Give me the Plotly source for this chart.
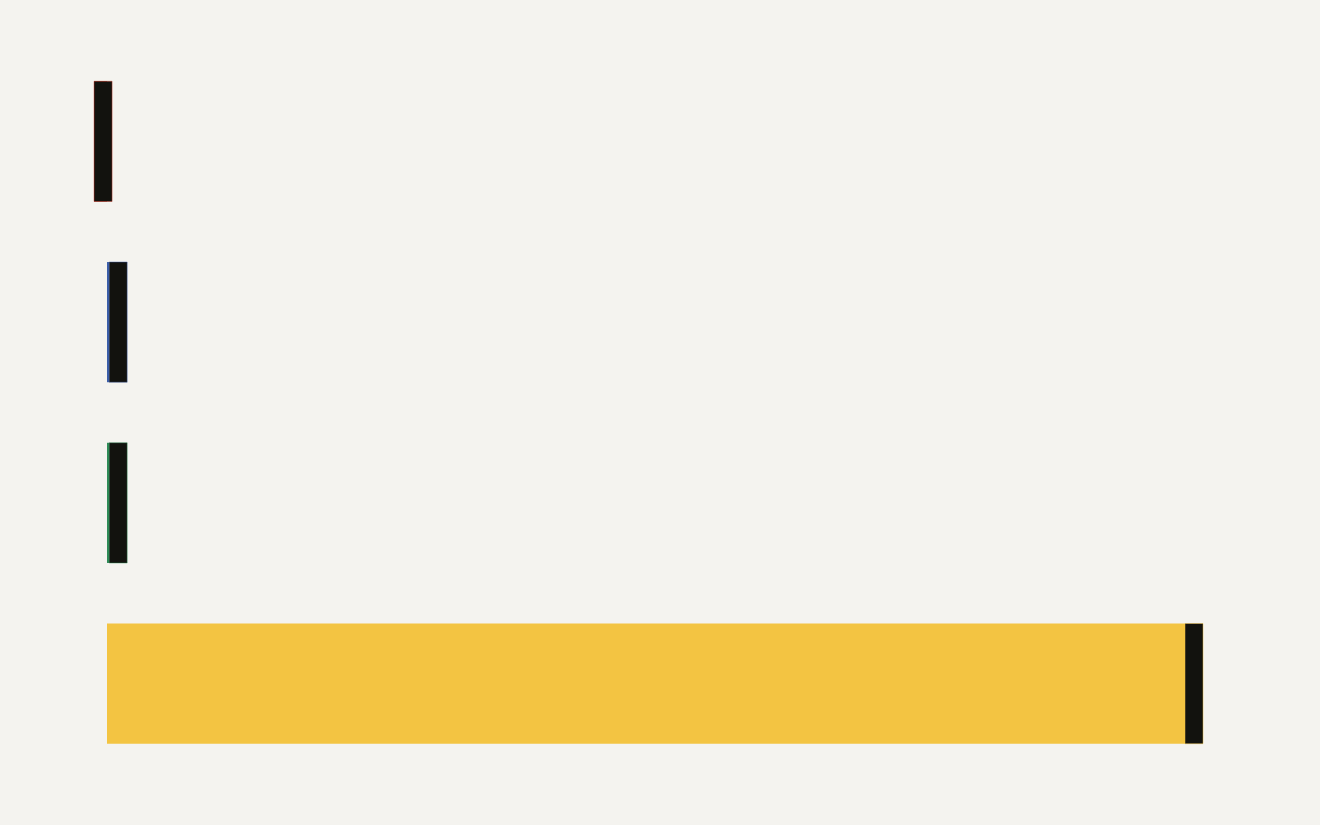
import plotly.graph_objects as go

# categories from top to bottom
categories = ["A", "B", "C", "D"]
values = [-1.2, 0.2, 0.2, 100.0]
colors = ["#c0392b", "#3b5ea8", "#2e8b57", "#f3c442"]
cap_edges = ["rgba(192,57,43,0.45)", "rgba(59,94,168,0.45)",
             "rgba(46,139,87,0.45)", "rgba(243,196,66,0.45)"]

CAP = 1.67  # width of the black end cap, in axis units
INK = "#12120e"
BG = "#f4f3ef"

fig = go.Figure()

# main coloured bars
fig.add_trace(go.Bar(
    y=categories, x=values, orientation="h",
    marker=dict(color=colors, line=dict(width=0)),
    width=0.665, hoverinfo="x+y",
))

# black caps sitting at the end of each bar
fig.add_trace(go.Bar(
    y=categories, x=[CAP] * len(values), base=values, orientation="h",
    marker=dict(color=INK, line=dict(color=cap_edges, width=1)),
    width=0.665, hoverinfo="skip",
))

fig.update_layout(
    width=1320, height=825,
    barmode="overlay",
    showlegend=False,
    paper_bgcolor=BG, plot_bgcolor=BG,
    margin=dict(l=80, r=80, t=51, b=51),
    xaxis=dict(range=[-2.505, 105.1], visible=False),
    yaxis=dict(autorange="reversed", visible=False),
)

# drop the default page margin so the figure fills the window
fig.write_html("out.html", config={"displayModeBar": False},
               post_script="document.body.style.margin='0';")
